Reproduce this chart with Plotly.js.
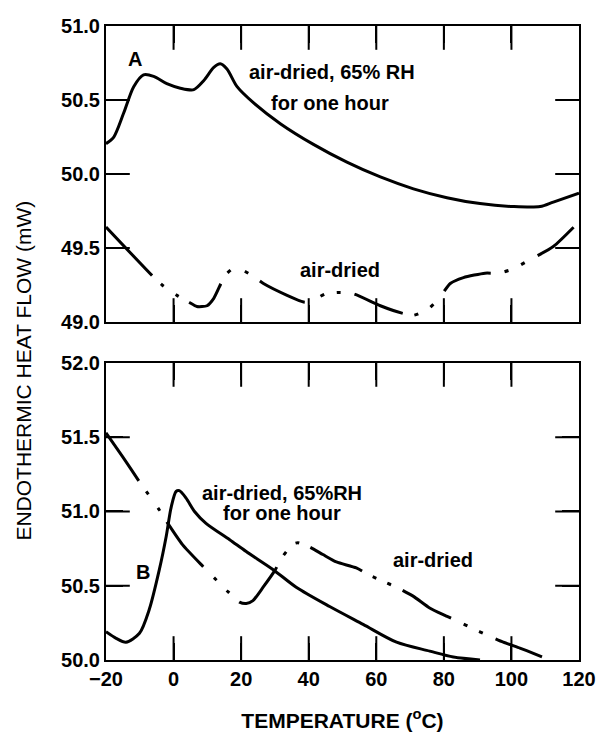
<!DOCTYPE html>
<html>
<head>
<meta charset="utf-8">
<script src="https://cdn.plot.ly/plotly-3.0.1.min.js"></script>
<style>html,body{margin:0;padding:0;background:#fff;}#chart{width:600px;height:740px;}</style>
</head>
<body>
<div id="chart"></div>
<script>
// Panel A: air-dried, 65% RH for one hour (solid)
const tempA_humid = [-20, -17.7, -14.8, -11.8, -8.9, -5.9, -2, 2, 6, 8.9, 11.9, 13.8, 15.8, 18.8, 23.7, 31.6, 41.4, 51.3, 61.2, 71, 80.9, 90.7, 100.6, 108.5, 112.4, 120];
const heatA_humid = [50.205, 50.25, 50.41, 50.59, 50.67, 50.66, 50.61, 50.58, 50.57, 50.63, 50.72, 50.745, 50.71, 50.59, 50.48, 50.34, 50.20, 50.08, 49.98, 49.90, 49.84, 49.80, 49.78, 49.78, 49.81, 49.87];
// Panel A: air-dried (dash-dot-dot)
const tempA_dry = [-20, -6.4, -3.4, 1, 4.5, 6.9, 9.9, 11.9, 15.3, 18.3, 23.2, 26.6, 33.6, 38.5, 40.5, 44.9, 49.3, 53.3, 61.2, 67.6, 71, 75.5, 78.9, 81.9, 85.8, 92.2, 96.2, 100.6, 104.6, 112.4, 118.4];
const heatA_dry = [49.642, 49.315, 49.25, 49.18, 49.135, 49.105, 49.11, 49.16, 49.315, 49.37, 49.315, 49.26, 49.18, 49.135, 49.135, 49.19, 49.20, 49.19, 49.11, 49.06, 49.045, 49.09, 49.17, 49.26, 49.30, 49.33, 49.33, 49.36, 49.41, 49.51, 49.64];
// Panel B: air-dried, 65% RH for one hour (solid)
const tempB_humid = [-20, -17, -14.1, -10.1, -7.2, -4.2, -2.2, -0.7, 0.75, 1.7, 3.7, 6.2, 9.6, 16.6, 21.5, 29.4, 36.3, 46.2, 56.1, 66, 75.8, 82.8, 90.7];
const heatB_humid = [50.19, 50.146, 50.12, 50.18, 50.34, 50.61, 50.83, 51.03, 51.135, 51.14, 51.09, 51.0, 50.92, 50.81, 50.73, 50.61, 50.49, 50.36, 50.24, 50.12, 50.06, 50.02, 50.0];
// Panel B: air-dried (dash-dot-dot)
const tempB_dry = [-20, -15.1, -10.1, -7.6, -4.2, -2, 2.7, 8.7, 12.6, 16.1, 19.5, 21.5, 23.5, 26.5, 29.9, 32.4, 35.3, 36.8, 40.3, 44.2, 48.2, 54.1, 58.1, 62, 66, 70.9, 75.8, 80.3, 84.2, 88.7, 92.6, 97.6, 102.5, 106.5, 111.4];
const heatB_dry = [51.53, 51.37, 51.2, 51.12, 51.01, 50.93, 50.775, 50.63, 50.54, 50.46, 50.39, 50.38, 50.40, 50.49, 50.60, 50.70, 50.78, 50.79, 50.76, 50.71, 50.66, 50.62, 50.57, 50.53, 50.49, 50.43, 50.35, 50.30, 50.26, 50.21, 50.17, 50.12, 50.08, 50.045, 50.0];

const xTicks = [-20, 0, 20, 40, 60, 80, 100, 120];
const yTicksA = [49.0, 49.5, 50.0, 50.5, 51.0];
const yTicksB = [50.0, 50.5, 51.0, 51.5, 52.0];

const FONT = "'Liberation Sans', Arial, Helvetica, sans-serif";
// dash - dot - dot patterns (px)
const dashA = "67px,12px,4px,14px,4px,12px,45px,13px,4px,16px,4px,14px,50px,17px,4px,13px,4px,14px,52px,12px,4px,14px,4px,17px,52px,14px,4px,14px,4px,15px,90px";
const dashB = "58px,13px,4px,16px,4px,13px,58px,15px,4px,14px,4px,13px,56px,14px,4px,13px,4px,12px,57px,12px,4px,12px,4px,13px,56px,14px,4px,13px,4px,14px,50px,16px,4px,40px";

const traces = [
  {x: tempA_humid, y: heatA_humid, xaxis: 'x', yaxis: 'y', mode: 'lines', line: {color: '#000', width: 3, shape: 'spline', smoothing: 0.8}},
  {x: tempA_dry, y: heatA_dry, xaxis: 'x', yaxis: 'y', mode: 'lines', line: {color: '#000', width: 3, shape: 'spline', smoothing: 0.6, dash: dashA}},
  {x: tempB_humid, y: heatB_humid, xaxis: 'x2', yaxis: 'y2', mode: 'lines', line: {color: '#000', width: 3, shape: 'spline', smoothing: 0.8}},
  {x: tempB_dry, y: heatB_dry, xaxis: 'x2', yaxis: 'y2', mode: 'lines', line: {color: '#000', width: 3, shape: 'spline', smoothing: 0.6, dash: dashB}}
];

// Inward tick marks on all four sides (markers centred on the frame, clipped to the plot area)
function tickTrace(xs, ys, symbol, xa, ya) {
  return {x: xs, y: ys, xaxis: xa, yaxis: ya, mode: 'markers', hoverinfo: 'skip', cliponaxis: true,
    marker: {symbol: symbol, size: 34, color: '#000', line: {color: '#000', width: 2}}};
}
function addPanelTicks(yt, xa, ya) {
  const xMin = xTicks[0], xMax = xTicks[xTicks.length - 1];
  const yMin = yt[0], yMax = yt[yt.length - 1];
  const xs = [], ys = [];
  xTicks.slice(1, -1).forEach(t => { xs.push(t, t); ys.push(yMin, yMax); });
  traces.push(tickTrace(xs, ys, 'line-ns', xa, ya));
  const xs2 = [], ys2 = [];
  yt.slice(1, -1).forEach(t => { xs2.push(xMin, xMax); ys2.push(t, t); });
  traces.push(tickTrace(xs2, ys2, 'line-ew', xa, ya));
}
addPanelTicks(yTicksA, 'x', 'y');
addPanelTicks(yTicksB, 'x2', 'y2');

function axisBase() {
  return {
    showgrid: false, zeroline: false, showline: true, linecolor: '#000', linewidth: 2,
    mirror: 'allticks', ticks: 'inside', ticklen: 17, tickwidth: 2, tickcolor: '#000',
    tickfont: {family: FONT, size: 20, color: '#000', weight: 'bold'}
  };
}

const annFont = {family: FONT, size: 20, color: '#000', weight: 'bold'};

const layout = {
  width: 600, height: 740,
  margin: {l: 106, r: 21, t: 26, b: 80},
  paper_bgcolor: '#fff', plot_bgcolor: '#fff',
  showlegend: false,
  font: {family: FONT, color: '#000'},
  xaxis: Object.assign(axisBase(), {domain: [0, 1], range: [-20, 120], tickvals: xTicks, showticklabels: false, anchor: 'y'}),
  yaxis: Object.assign(axisBase(), {domain: [0.5331, 1], range: [49, 51], tickvals: yTicksA, tickformat: '.1f', anchor: 'x'}),
  xaxis2: Object.assign(axisBase(), {domain: [0, 1], range: [-20, 120], tickvals: xTicks, anchor: 'y2',
    title: {text: 'TEMPERATURE (<sup>o</sup>C)', font: {family: FONT, size: 21, color: '#000', weight: 'bold'}, standoff: 24}}),
  yaxis2: Object.assign(axisBase(), {domain: [0, 0.4685], range: [50, 52], tickvals: yTicksB, tickformat: '.1f', anchor: 'x2'}),
  annotations: [
    {xref: 'paper', yref: 'paper', x: -0.174, y: 0.456, text: 'ENDOTHERMIC HEAT FLOW (mW)', textangle: -90, showarrow: false,
     font: {family: FONT, size: 21, color: '#000'}, xanchor: 'center', yanchor: 'middle'},
    {xref: 'x', yref: 'y', x: -11.4, y: 50.78, text: 'A', showarrow: false, font: annFont},
    {xref: 'x', yref: 'y', x: 46.9, y: 50.69, text: 'air-dried, 65% RH', showarrow: false, font: annFont},
    {xref: 'x', yref: 'y', x: 46.3, y: 50.48, text: 'for one hour', showarrow: false, font: annFont},
    {xref: 'x', yref: 'y', x: 49.2, y: 49.35, text: 'air-dried', showarrow: false, font: annFont},
    {xref: 'x2', yref: 'y2', x: -9.05, y: 50.59, text: 'B', showarrow: false, font: annFont},
    {xref: 'x2', yref: 'y2', x: 32.1, y: 51.125, text: 'air-dried, 65%RH', showarrow: false, font: annFont},
    {xref: 'x2', yref: 'y2', x: 32.1, y: 50.99, text: 'for one hour', showarrow: false, font: annFont},
    {xref: 'x2', yref: 'y2', x: 76.7, y: 50.67, text: 'air-dried', showarrow: false, font: annFont}
  ]
};

Plotly.newPlot('chart', traces, layout, {displayModeBar: false, staticPlot: true});
</script>
</body>
</html>
